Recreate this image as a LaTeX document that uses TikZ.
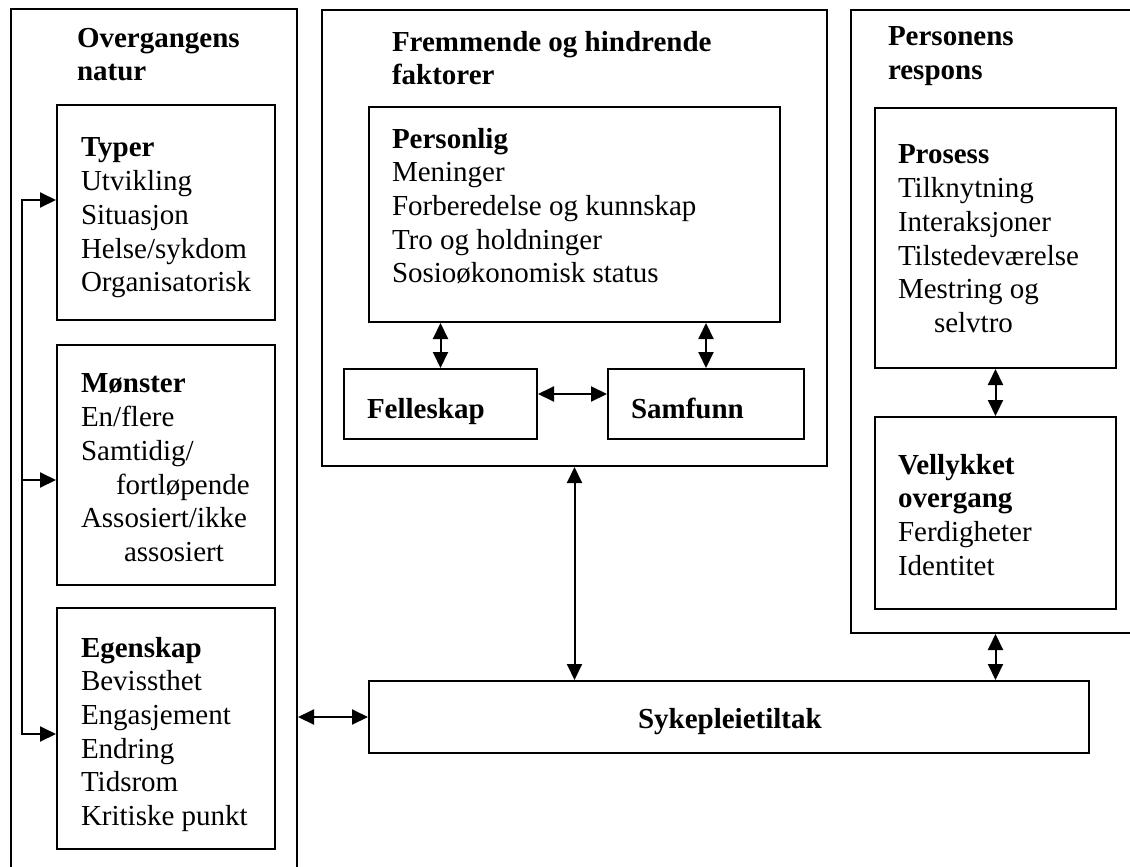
\documentclass[tikz,border=0pt]{standalone}
\usepackage{fontspec}
\setmainfont{Liberation Serif}
\usetikzlibrary{arrows.meta,fit}
\begin{document}
\begin{tikzpicture}[
		x=0.5pt, y=-0.5pt,
		line width=1pt,
		>={Triangle[length=8pt,width=7.5pt]},
		box/.style={draw, inner sep=0pt},
		txt/.style={align=left, inner sep=0pt, anchor=north west, font=\fontsize{14.5}{16.85}\selectfont, execute at begin node=\strut},
		head/.style={txt, font=\fontsize{14.5}{16.85}\selectfont\bfseries},
	]
	\useasboundingbox (0,0) rectangle (1130,867);
	\node[box, fit={(11,9) (297,900)}] (natur) {};
	\node[box, fit={(322,10) (827,466)}] (faktorer) {};
	\node[box, fit={(851,10) (1150,633)}] (respons) {};
	\node[head] (natur title) at (76,27) {Overgangens\\natur};
	\node[head] (faktorer title) at (391,30) {Fremmende og hindrende\\faktorer};
	\node[head] (respons title) at (887,26) {Personens\\respons};
	% overgangens natur
	\node[box, fit={(57,105) (275,320)}] (typer) {};
	\node[box, fit={(57,345) (275,585)}] (moenster) {};
	\node[box, fit={(57,608) (275,849)}] (egenskap) {};
	\node[txt] (typer text) at (80,137) {\textbf{Typer}\\Utvikling\\Situasjon\\Helse/sykdom\\Organisatorisk};
	\node[txt] (moenster text) at (80,373) {\textbf{Mønster}\\En/flere\\Samtidig/\\\hspace*{17.5pt}fortløpende\\Assosiert/ikke\\\hspace*{21.5pt}assosiert};
	\node[txt] (egenskap text) at (80,636) {\textbf{Egenskap}\\Bevissthet\\Engasjement\\Endring\\Tidsrom\\Kritiske punkt};
	% fremmende og hindrende faktorer
	\node[box, fit={(369,107) (780,322)}] (personlig) {};
	\node[box, fit={(344,369) (537,439)}] (felleskap) {};
	\node[box, fit={(608,369) (804,439)}] (samfunn) {};
	\node[txt] (personlig text) at (391,127) {\textbf{Personlig}\\Meninger\\Forberedelse og kunnskap\\Tro og holdninger\\Sosioøkonomisk status};
	\node[head] (felleskap text) at (366,394) {Felleskap};
	\node[head] (samfunn text) at (630,394) {Samfunn};
	% personens respons
	\node[box, fit={(875,108) (1116,368)}] (prosess) {};
	\node[box, fit={(875,417) (1116,609)}] (vellykket) {};
	\node[txt] (prosess text) at (897,144) {\textbf{Prosess}\\Tilknytning\\Interaksjoner\\Tilstedeværelse\\Mestring og\\\hspace*{18pt}selvtro};
	\node[txt] (vellykket text) at (897,453) {\textbf{Vellykket}\\\textbf{overgang}\\Ferdigheter\\Identitet};
	% sykepleietiltak
	\node[box, fit={(369,681) (1089,753)}] (syke) {};
	\node[head] (syke text) at (637,704) {Sykepleietiltak};
	\coordinate (j1) at (22,200);
	\coordinate (j2) at (22,480);
	\coordinate (j3) at (22,734);
	\draw[<->] (typer.west |- j1) -- (j1) -- (j3) -- (egenskap.west |- j3);
	\draw[->] (j2) -- (moenster.west |- j2);
	\draw[<->] (felleskap.north) -- (felleskap.north |- personlig.south);
	\draw[<->] (samfunn.north) -- (samfunn.north |- personlig.south);
	\draw[<->] ([yshift=5pt]felleskap.east) -- ([yshift=5pt]samfunn.west);
	\draw[<->] (prosess.south) -- (vellykket.north);
	\draw[<->] (faktorer.south) -- (faktorer.south |- syke.north);
	\draw[<->] (vellykket.south |- respons.south) -- (vellykket.south |- syke.north);
	\draw[<->] (natur.east |- syke.west) -- (syke.west);
\end{tikzpicture}
\end{document}
